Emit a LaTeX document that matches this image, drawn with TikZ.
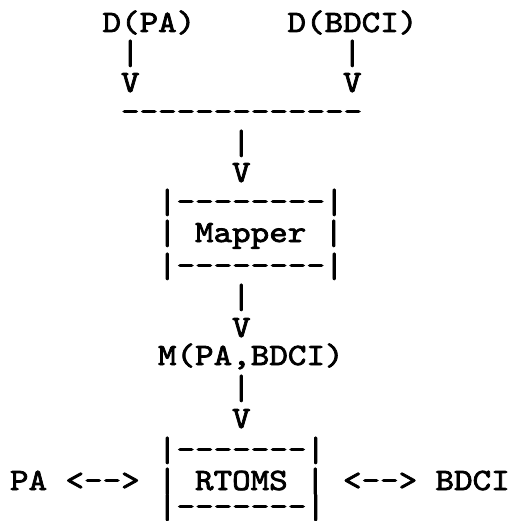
\documentclass[tikz,border=0pt]{standalone}
\usepackage{fontspec}
\usepackage{graphicx}
% Typewriter face: Latin Modern Mono, widened to a Courier-like cell and heavier strokes
\newfontfamily\typedfam[Extension=.otf,FakeStretch=1.14,FakeBold=2.4]{lmmono10-regular}
\newcommand\typedface{\typedfam\fontsize{31pt}{31pt}\selectfont}
% the typewriter bar, a little taller than the plain glyph
\newcommand\tbar{\raisebox{-2pt}{\scalebox{1}[1.12]{|}}}
\begin{document}
% One column of the typed grid is 18.5pt wide; y counts baselines down from the top
\begin{tikzpicture}[x=18.5pt, y=-1pt,
  tt/.style={font=\typedface, inner sep=0pt, outer sep=0pt, anchor=base west}]
\useasboundingbox (-10pt,0pt) rectangle (500pt,-521pt);

% sources
\node[tt] (dpa)   at (5,32)  {D(PA)};
\node[tt] (dbdci) at (15,32) {D(BDCI)};
\node[tt] (barl)  at (6,62)  {\tbar};
\node[tt] (barr)  at (18,62) {\tbar};
\node[tt] (vl)    at (6,92)  {V};
\node[tt] (vr)    at (18,92) {V};

% merge line
\node[tt] (merge) at (6,121) {-------------};
\node[tt] (bara)  at (12,152) {\tbar};
\node[tt] (va)    at (12,182) {V};

% Mapper box
\node[tt] (maptop) at (8,211) {\tbar--------\tbar};
\node[tt] (mapl)   at (8,242) {\tbar};
\node[tt] (mapper) at (10,242) {Mapper};
\node[tt] (mapr)   at (17,242) {\tbar};
\node[tt] (mapbot) at (8,275) {\tbar--------\tbar};
\node[tt] (barb)   at (12,306) {\tbar};
\node[tt] (vb)     at (12,337) {V};

% mapping result
\node[tt] (mout)  at (8,365)  {M(PA,BDCI)};
\node[tt] (barc)  at (12,397) {\tbar};
\node[tt] (vc)    at (12,428) {V};

% RTOMS box with its two partners
\node[tt] (rttop) at (8,459)  {\tbar-------\tbar};
\node[tt] (pa)    at (0,490)  {PA};
\node[tt] (arrl)  at (3,490)  {<-->};
\node[tt] (rtl)   at (8,490)  {\tbar};
\node[tt] (rtoms) at (10,490) {RTOMS};
\node[tt] (rtr)   at (16,490) {\tbar};
\node[tt] (arrr)  at (18,490) {<-->};
\node[tt] (bdci)  at (23,490) {BDCI};
\node[tt] (rtbot) at (8,516)  {\tbar-------\tbar};
\end{tikzpicture}
\end{document}
